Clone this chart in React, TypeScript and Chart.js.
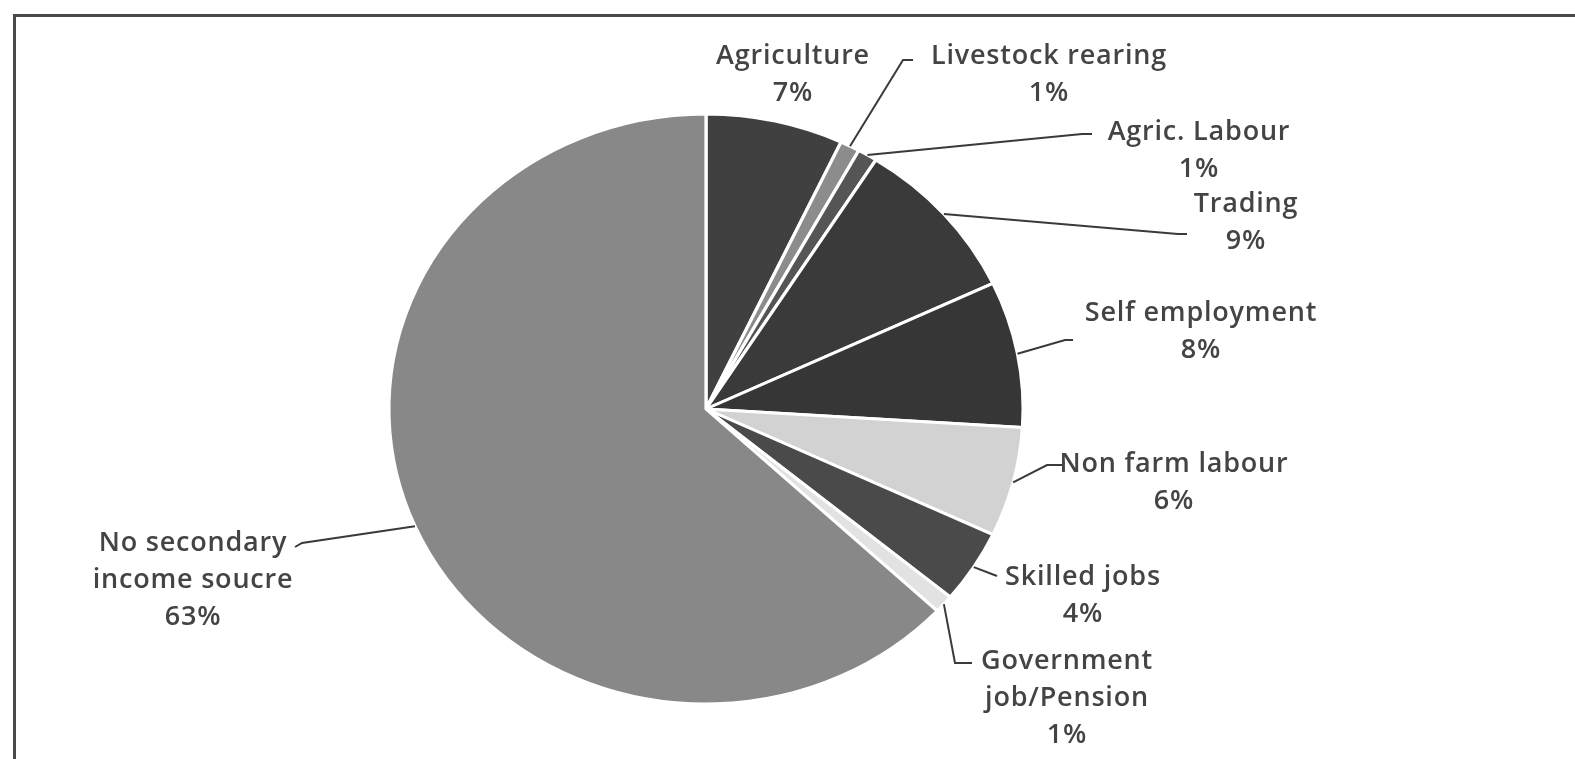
import React, { useEffect, useRef } from "react";
import { Chart, registerables } from "chart.js";

Chart.register(...registerables);

// ---- data ----
const categories = [
  "Agriculture",
  "Livestock rearing",
  "Agric. Labour",
  "Trading",
  "Self employment",
  "Non farm labour",
  "Skilled jobs",
  "Government job/Pension",
  "No secondary income soucre",
];
const shares = [7, 1, 1, 9, 8, 6, 4, 1, 63];
const labelLines = [
  ["Agriculture"],
  ["Livestock rearing"],
  ["Agric. Labour"],
  ["Trading"],
  ["Self employment"],
  ["Non farm labour"],
  ["Skilled jobs"],
  ["Government", "job/Pension"],
  ["No secondary", "income soucre"],
];

// ---- styles / layout (not data) ----
const sliceColors = [
  "#404040",
  "#8c8c8c",
  "#555555",
  "#3a3a3a",
  "#363636",
  "#d2d2d2",
  "#4a4a4a",
  "#e2e2e2",
  "#888888",
];
// label placement: centre x, first baseline, leader bend points (from slice edge)
const labelLayout = [
  { cx: 792, y: 64, leader: null },
  { cx: 1048, y: 64, leader: [[903, 60], [913, 60]] },
  { cx: 1198, y: 140, leader: [[1082, 134], [1092, 134]] },
  { cx: 1245, y: 212, leader: [[1178, 234], [1187, 234]] },
  { cx: 1200, y: 321, leader: [[1065, 340], [1073, 340]] },
  { cx: 1173, y: 472, leader: [[1047, 465], [1062, 465]] },
  { cx: 1082, y: 585, leader: [[997, 576]] },
  { cx: 1066, y: 669, leader: [[955, 663], [972, 663]] },
  { cx: 192, y: 551, leader: [[302, 543], [295, 547]] },
];
const LINE_H = 37;
const STRETCH_X = 1.075;
const RADIUS = 295;

const ellipseLabelPlugin = {
  id: "ellipseLabels",
  beforeDatasetsDraw(chart: any) {
    const ctx = chart.ctx;
    const { left, right } = chart.chartArea;
    const cx = (left + right) / 2;
    ctx.save();
    ctx.translate(cx, 0);
    ctx.scale(STRETCH_X, 1);
    ctx.translate(-cx, 0);
  },
  afterDatasetsDraw(chart: any) {
    const ctx = chart.ctx;
    ctx.restore();
    const meta = chart.getDatasetMeta(0);
    const values = chart.data.datasets[0].data as number[];
    ctx.save();
    meta.data.forEach((arc: any, i: number) => {
      const p = arc.getProps(["x", "y", "startAngle", "endAngle", "outerRadius"], true);
      const mid = (p.startAngle + p.endAngle) / 2;
      const ax = p.x + Math.cos(mid) * p.outerRadius * STRETCH_X;
      const ay = p.y + Math.sin(mid) * p.outerRadius;
      const lay = labelLayout[i];
      if (lay.leader) {
        ctx.beginPath();
        ctx.strokeStyle = "#3a3a3a";
        ctx.lineWidth = 2;
        ctx.moveTo(ax, ay);
        lay.leader.forEach((pt: number[]) => ctx.lineTo(pt[0], pt[1]));
        ctx.stroke();
      }
      ctx.fillStyle = "#444444";
      ctx.font = '600 27px "Open Sans"';
      (ctx as any).letterSpacing = "0.8px";
      ctx.textAlign = "center";
      ctx.textBaseline = "alphabetic";
      const lines = [...labelLines[i], `${values[i]}%`];
      lines.forEach((t, k) => ctx.fillText(t, lay.cx + 1, lay.y + k * LINE_H));
    });
    ctx.restore();
  },
};

export default function App() {
  const ref = useRef<HTMLCanvasElement>(null);
  useEffect(() => {
    if (!ref.current) return;
    const chart = new Chart(ref.current, {
      type: "pie",
      data: {
        labels: categories,
        datasets: [
          {
            data: shares,
            backgroundColor: sliceColors,
            borderColor: "#ffffff",
            borderWidth: 3,
            radius: RADIUS,
            clip: false,
          } as any,
        ],
      },
      options: {
        responsive: false,
        animation: false,
        events: [],
        layout: { padding: { left: 411, right: 574, top: 114, bottom: 55 } },
        plugins: { legend: { display: false }, tooltip: { enabled: false } },
      },
      plugins: [ellipseLabelPlugin],
    });
    return () => chart.destroy();
  }, []);
  return (
    <div style={{ position: "absolute", left: 0, top: 0, width: 1575, height: 759, background: "#fff", overflow: "hidden" }}>
      <div
        style={{
          position: "absolute",
          left: 13,
          top: 14,
          width: 1600,
          height: 800,
          borderLeft: "3px solid #4a4a4a",
          borderTop: "3px solid #4a4a4a",
        }}
      />
      <canvas ref={ref} width={1575} height={759} style={{ position: "absolute", left: 0, top: 0 }} />
    </div>
  );
}
